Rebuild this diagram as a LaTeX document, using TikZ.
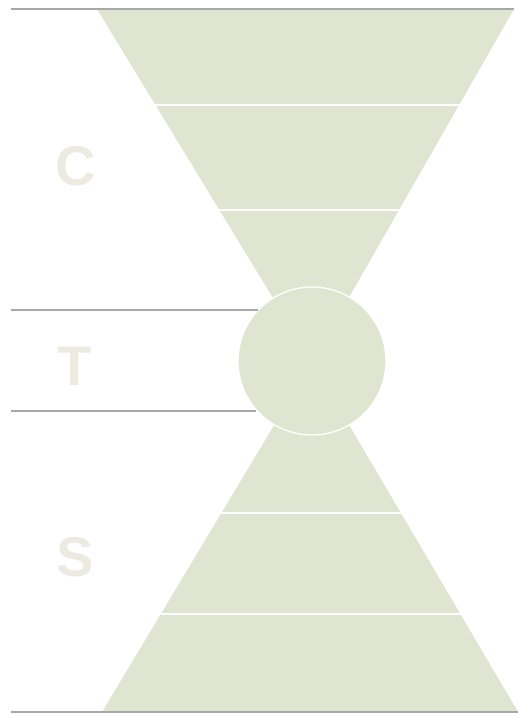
\documentclass[tikz,border=0pt]{standalone}
\usepackage{fontspec}
\setsansfont{Liberation Sans}
\definecolor{funnel}{HTML}{DFE5D0}
\definecolor{rulegray}{HTML}{A8A8A8}
\definecolor{letter}{HTML}{ECEBE1}
\tikzset{
  funnelfill/.style={fill=funnel, draw=none},
  band/.style={draw=white, line width=1.3pt},
  rulerline/.style={draw=rulegray, line width=1.2pt},
  biglet/.style={text=letter, font=\sffamily\bfseries\fontsize{56}{56}\selectfont, inner sep=0pt, anchor=center}
}
\begin{document}
\begin{tikzpicture}[x=1pt,y=-1pt]
\useasboundingbox (0,0) rectangle (518,714);
% top funnel
\coordinate (tl) at (97,9);
\coordinate (tr) at (514,9);
\coordinate (ap) at (312,362);
\coordinate (bl) at (102,712);
\coordinate (br) at (518,712);
\fill[funnelfill] (tl) -- (tr) -- (ap) -- cycle;
\fill[funnelfill] (bl) -- (br) -- (ap) -- cycle;
\begin{scope}
  \clip (tl) -- (tr) -- (ap) -- cycle;
  \draw[band] (0,105) -- (518,105);
  \draw[band] (0,210) -- (518,210);
\end{scope}
\begin{scope}
  \clip (bl) -- (br) -- (ap) -- cycle;
  \draw[band] (0,513) -- (518,513);
  \draw[band] (0,614) -- (518,614);
\end{scope}
% circle
\node[circle, fill=funnel, draw=white, line width=1.3pt, minimum size=148pt, inner sep=0pt] (core) at (312,361) {};
% rules
\draw[rulerline] (11,9) -- (514,9);
\draw[rulerline] (11,310) -- (258,310);
\draw[rulerline] (11,411) -- (256,411);
\draw[rulerline] (11,712) -- (518,712);
% letters
\node[biglet] (c) at (76,166) {C};
\node[biglet] (t) at (75,366) {T};
\node[biglet] (s) at (75,557) {S};
\end{tikzpicture}
\end{document}
